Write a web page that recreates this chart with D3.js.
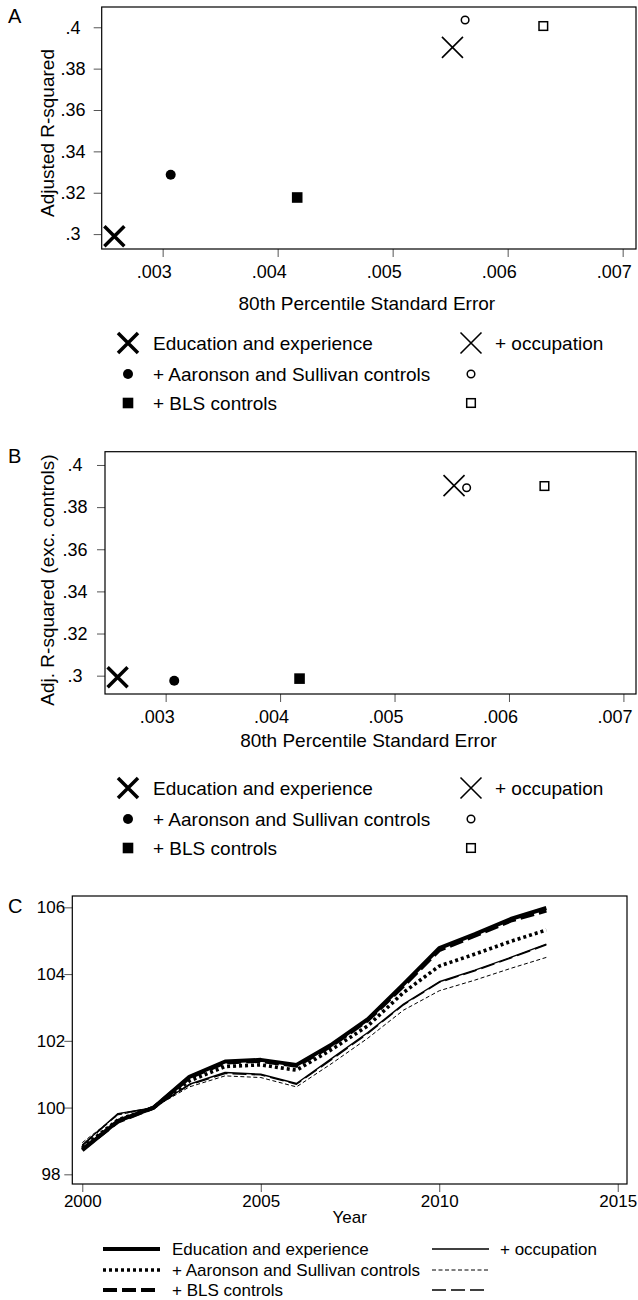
<!DOCTYPE html>
<html>
<head>
<meta charset="utf-8">
<script src="https://cdn.jsdelivr.net/npm/d3@7"></script>
<style>
    body { margin: 0; background: #fff; }
    svg { display: block; font-family: "Liberation Sans", Arial, sans-serif; }
</style>
</head>
<body>
<svg id="chart" width="638" height="1300"></svg>
<script>

var specNames = ["Education and experience", "+ Aaronson and Sullivan controls", "+ BLS controls", "+ occupation", "", ""];
var specMarkers = ["boldX", "dot", "square", "thinX", "ring", "box"];

var panelASe = [0.00258, 0.00307, 0.00417, 0.00552, 0.00563, 0.00631];
var panelAR2 = [0.2990, 0.3287, 0.3177, 0.3903, 0.4035, 0.4006];

var panelBSe = [0.00258, 0.003075, 0.00417, 0.00552, 0.00563, 0.00631];
var panelBR2 = [0.2992, 0.2976, 0.2986, 0.3902, 0.3892, 0.3900];

var seTicks = [0.003, 0.004, 0.005, 0.006, 0.007];
var r2Ticks = [0.30, 0.32, 0.34, 0.36, 0.38, 0.40];

var years = [2000, 2001, 2002, 2003, 2004, 2005, 2006, 2007, 2008, 2009, 2010, 2011, 2012, 2013];
var indexEdu = [98.72, 99.60, 100, 100.92, 101.38, 101.43, 101.28, 101.90, 102.65, 103.70, 104.78, 105.20, 105.65, 105.98];
var indexAs = [98.80, 99.63, 100, 100.80, 101.23, 101.28, 101.12, 101.75, 102.45, 103.45, 104.24, 104.60, 104.98, 105.32];
var indexBls = [98.75, 99.58, 100, 100.90, 101.35, 101.40, 101.25, 101.87, 102.62, 103.65, 104.72, 105.15, 105.60, 105.90];
var indexOcc = [98.88, 99.82, 100, 100.70, 101.05, 101.00, 100.72, 101.48, 102.25, 103.10, 103.77, 104.12, 104.50, 104.90];
var indexOccAs = [98.95, 99.78, 100, 100.62, 100.95, 100.90, 100.62, 101.33, 102.08, 102.92, 103.50, 103.82, 104.17, 104.50];
var indexOccBls = [98.86, 99.80, 100, 100.68, 101.02, 100.98, 100.70, 101.45, 102.22, 103.08, 103.75, 104.10, 104.48, 104.88];

var yearTicks = [2000, 2005, 2010, 2015];
var indexTicks = [98, 100, 102, 104, 106];

var svg = d3.select("#chart");
var tickColor = "#555";

var decimalFormat = function(v) {
    return d3.format(".4~f")(v).replace(/^0/, "");
};

// draws one marker symbol centred on 0,0 inside g
var drawMarker = function(g, type) {
    if (type === "boldX") {
        g.append("path").attr("d", "M-10,-10L10,10M-10,10L10,-10").attr("stroke", "#000").attr("stroke-width", 3.5).attr("fill", "none");
    } else if (type === "thinX") {
        g.append("path").attr("d", "M-10.5,-10.5L10.5,10.5M-10.5,10.5L10.5,-10.5").attr("stroke", "#000").attr("stroke-width", 1.6).attr("fill", "none");
    } else if (type === "dot") {
        g.append("circle").attr("r", 5).attr("fill", "#000");
    } else if (type === "square") {
        g.append("rect").attr("x", -5.3).attr("y", -5.3).attr("width", 10.6).attr("height", 10.6).attr("fill", "#000");
    } else if (type === "ring") {
        g.append("circle").attr("r", 3.8).attr("fill", "none").attr("stroke", "#000").attr("stroke-width", 1.5);
    } else if (type === "box") {
        g.append("rect").attr("x", -4.3).attr("y", -4.3).attr("width", 8.6).attr("height", 8.6).attr("fill", "none").attr("stroke", "#000").attr("stroke-width", 1.5);
    }
};

var drawScatter = function(p) {

    var x = d3.scaleLinear().domain(p.xDomain).range([p.left, p.right]);
    var y = d3.scaleLinear().domain(p.yDomain).range([p.bottom, p.top]);

    svg.append("text").attr("x", p.letterX).attr("y", p.letterY).attr("font-size", 20).text(p.letter);

    var xAxis = svg.append("g").attr("transform", "translate(0," + p.bottom + ")")
        .call(d3.axisBottom(x).tickValues(seTicks).tickSize(8).tickPadding(8).tickFormat(decimalFormat));
    xAxis.select(".domain").remove();
    xAxis.selectAll("line").attr("stroke", tickColor);
    xAxis.selectAll("text").attr("font-size", 18).attr("fill", "#000").attr("font-family", null).attr("dx", -9);

    var yAxis = svg.append("g").attr("transform", "translate(" + p.left + ",0)")
        .call(d3.axisLeft(y).tickValues(r2Ticks).tickSize(8).tickFormat(decimalFormat));
    yAxis.select(".domain").remove();
    yAxis.selectAll("line").attr("stroke", tickColor);
    yAxis.selectAll("text").attr("font-size", 18).attr("fill", "#000").attr("font-family", null)
        .attr("text-anchor", "middle").attr("x", p.yLabelX - p.left);

    svg.append("rect").attr("x", p.left).attr("y", p.top).attr("width", p.right - p.left).attr("height", p.bottom - p.top)
        .attr("fill", "none").attr("stroke", "#000").attr("stroke-width", 1.2);

    svg.append("text").attr("transform", "translate(" + p.yTitleX + "," + p.yTitleY + ") rotate(-90)")
        .attr("text-anchor", "middle").attr("dy", "0.35em").attr("font-size", 19).text(p.yTitle);

    svg.append("text").attr("x", (p.left + p.right) / 2 - 2).attr("y", p.xTitleY).attr("text-anchor", "middle")
        .attr("font-size", 19).text("80th Percentile Standard Error");

    p.se.forEach(function(v, i) {
        var g = svg.append("g").attr("transform", "translate(" + x(v) + "," + y(p.r2[i]) + ")");
        drawMarker(g, specMarkers[i]);
    });

    // legend: two columns of three rows
    var rowGap = [0, 31, 60];
    specNames.forEach(function(name, i) {
        var col = i < 3 ? 0 : 1;
        var row = i % 3;
        var mx = col === 0 ? 128 : 471;
        var ry = p.legendY + rowGap[row];
        var g = svg.append("g").attr("transform", "translate(" + mx + "," + ry + ")");
        drawMarker(g, specMarkers[i]);
        if (name) {
            svg.append("text").attr("x", col === 0 ? 153 : 495).attr("y", ry).attr("dy", "0.35em")
                .attr("font-size", 19).text(name);
        }
    });
};

drawScatter({
    letter: "A", letterX: 8, letterY: 23,
    left: 101.7, right: 636, top: 7, bottom: 249,
    xDomain: [0.00247, 0.007116], yDomain: [0.2928, 0.4098],
    yLabelX: 73, yTitleX: 47, yTitleY: 133, xTitleY: 310,
    yTitle: "Adjusted R-squared",
    se: panelASe, r2: panelAR2,
    legendY: 343
});

drawScatter({
    letter: "B", letterX: 8, letterY: 463,
    left: 105, right: 636, top: 451.7, bottom: 694,
    xDomain: [0.00247, 0.00711], yDomain: [0.2913, 0.4063],
    yLabelX: 75, yTitleX: 47, yTitleY: 580, xTitleY: 747,
    yTitle: "Adj. R-squared (exc. controls)",
    se: panelBSe, r2: panelBR2,
    legendY: 788
});

// panel C: index lines
var cLeft = 72.3, cRight = 627, cTop = 896, cBottom = 1184;
var xC = d3.scaleLinear().domain([1999.72, 2015.26]).range([cLeft, cRight]);
var yC = d3.scaleLinear().domain([97.71, 106.34]).range([cBottom, cTop]);

svg.append("text").attr("x", 8).attr("y", 913).attr("font-size", 20).text("C");

var xAxisC = svg.append("g").attr("transform", "translate(0," + cBottom + ")")
    .call(d3.axisBottom(xC).tickValues(yearTicks).tickSize(8).tickPadding(3).tickFormat(d3.format("d")));
xAxisC.select(".domain").remove();
xAxisC.selectAll("line").attr("stroke", tickColor);
xAxisC.selectAll("text").attr("font-size", 17).attr("fill", "#000").attr("font-family", null);

var yAxisC = svg.append("g").attr("transform", "translate(" + cLeft + ",0)")
    .call(d3.axisLeft(yC).tickValues(indexTicks).tickSize(8).tickFormat(d3.format("d")));
yAxisC.select(".domain").remove();
yAxisC.selectAll("line").attr("stroke", tickColor);
yAxisC.selectAll("text").attr("font-size", 17).attr("fill", "#000").attr("font-family", null)
    .attr("text-anchor", "middle").attr("x", 51 - cLeft);

svg.append("rect").attr("x", cLeft).attr("y", cTop).attr("width", cRight - cLeft).attr("height", cBottom - cTop)
    .attr("fill", "none").attr("stroke", "#000").attr("stroke-width", 1.2);

svg.append("text").attr("x", (cLeft + cRight) / 2).attr("y", 1223).attr("text-anchor", "middle").attr("font-size", 17).text("Year");

var lineSeries = [
    {name: "+ occupation", values: indexOcc, width: 1.4, dash: null},
    {name: "", values: indexOccAs, width: 1, dash: "4,2.5"},
    {name: "", values: indexOccBls, width: 1.4, dash: "14,5"},
    {name: "Education and experience", values: indexEdu, width: 4, dash: null},
    {name: "+ Aaronson and Sullivan controls", values: indexAs, width: 3.6, dash: "3,3"},
    {name: "+ BLS controls", values: indexBls, width: 4, dash: "14,5"}
];

var line = d3.line().x(function(d) {
    return xC(d[0]);
}).y(function(d) {
    return yC(d[1]);
});

lineSeries.forEach(function(s) {
    svg.append("path").datum(d3.zip(years, s.values)).attr("d", line).attr("fill", "none")
        .attr("stroke", "#000").attr("stroke-width", s.width).attr("stroke-dasharray", s.dash)
        .attr("stroke-linejoin", "round");
});

// legend C: left column thick styles, right column thin ones
var legendRows = [1249, 1270, 1290];
lineSeries.forEach(function(s, i) {
    var col = i >= 3 ? 0 : 1;
    var row = i % 3;
    var x1 = col === 0 ? 103 : 432;
    var ly = legendRows[row];
    svg.append("line").attr("x1", x1).attr("x2", x1 + 57).attr("y1", ly).attr("y2", ly)
        .attr("stroke", "#000").attr("stroke-width", s.width).attr("stroke-dasharray", s.dash);
    if (s.name) {
        svg.append("text").attr("x", col === 0 ? 172 : 500).attr("y", ly).attr("dy", "0.35em")
            .attr("font-size", 17).text(s.name);
    }
});

</script>
</body>
</html>
